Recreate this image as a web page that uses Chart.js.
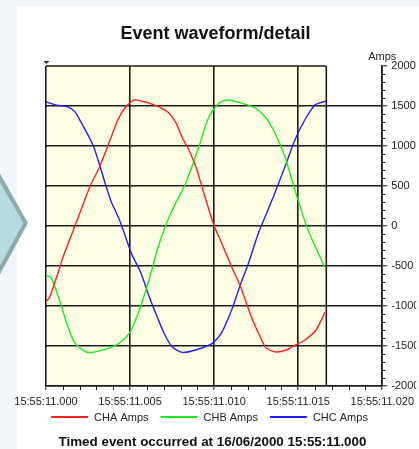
<!DOCTYPE html>
<html>
<head>
<meta charset="utf-8">
<script src="https://cdn.jsdelivr.net/npm/chart.js@4/dist/chart.umd.min.js"></script>
<style>
  html, body { margin: 0; padding: 0; background: #eff5f8; overflow: hidden; }
  canvas { display: block; }
</style>
</head>
<body>
<canvas id="wave" width="419" height="449"></canvas>
<script>
// Event record: one mains cycle of the three phase currents (time in ms after trigger)
const eventDate = '16/06/2000';
const eventTime = '15:55:11';
const recordEndMs = 16.67;

const chaTime = [0, 0.2, 0.83, 1.02, 1.71, 2.63, 3.19, 3.68, 4.27, 4.78, 5.25, 5.72, 6.14, 6.73, 7.32, 7.73, 8.09, 8.5, 8.91, 9.39, 9.98, 10.45, 11.04, 11.57, 12.22, 12.75, 13.1, 13.7, 14.3, 14.82, 15.4, 16.06, 16.6];
const chaAmps = [-940, -900, -509, -384, -5, 500, 741, 1000, 1325, 1500, 1575, 1560, 1535, 1490, 1410, 1290, 1110, 950, 740, 410, 12, -215, -510, -760, -1140, -1390, -1525, -1575, -1550, -1490, -1425, -1300, -1075];

const chbTime = [0, 0.28, 0.53, 0.93, 1.22, 1.71, 2.4, 2.99, 4.17, 4.96, 5.55, 5.94, 6.32, 6.61, 7.13, 7.72, 8.31, 9.09, 9.68, 10.27, 10.86, 11.63, 12.44, 13.03, 13.62, 14.21, 14.8, 14.99, 15.58, 16.57];
const chbAmps = [-620, -640, -760, -1010, -1210, -1460, -1575, -1570, -1490, -1340, -1050, -800, -530, -300, 12, 290, 535, 990, 1360, 1535, 1575, 1535, 1475, 1365, 1160, 865, 450, 325, -50, -510];

const chcTime = [0, 0.63, 1.3, 1.71, 2.0, 2.79, 3.19, 3.58, 3.88, 4.37, 4.86, 5.14, 5.65, 6.14, 6.61, 7.02, 7.5, 8.09, 8.9, 9.86, 10.45, 11.04, 11.55, 12.04, 12.63, 13.03, 13.52, 14.21, 14.8, 15.39, 15.98, 16.47, 16.65];
const chcAmps = [1550, 1510, 1490, 1430, 1330, 1012, 762, 491, 304, 75, -215, -370, -590, -885, -1135, -1340, -1510, -1580, -1550, -1470, -1330, -1050, -740, -465, -90, 115, 365, 740, 1075, 1325, 1510, 1550, 1560];

const seriesNames = ['CHA Amps', 'CHB Amps', 'CHC Amps'];
const seriesColors = ['#ff2020', '#20e820', '#2020ff'];

const FONT = '"Liberation Sans", Arial, Helvetica, sans-serif';
const INK = '#1c1c1c';

function toPoints(times, values) {
  return times.map((t, i) => ({ x: t, y: values[i] }));
}

function timeLabel(ms) {
  return `${eventTime}.${String(Math.round(ms)).padStart(3, '0')}`;
}

// Page, card, plot fill, frame, minor ticks and all captions
const decor = {
  id: 'decor',
  beforeDraw(chart) {
    const { ctx, width, height, chartArea: a, scales } = chart;
    ctx.save();
    ctx.fillStyle = '#eff5f8';
    ctx.fillRect(0, 0, width, height);
    ctx.fillStyle = '#ffffff';
    ctx.fillRect(17, 6, width - 17, height - 6);
    const x0 = scales.x.getPixelForValue(0);
    const x1 = scales.x.getPixelForValue(recordEndMs);
    ctx.fillStyle = '#fefee4';
    ctx.fillRect(x0, a.top, x1 - x0, a.bottom - a.top);
    ctx.restore();
  },
  beforeDatasetsDraw(chart) {
    const { ctx, chartArea: a, scales } = chart;
    const xs = scales.x, ys = scales.y;
    const x0 = xs.getPixelForValue(0);
    const x1 = xs.getPixelForValue(recordEndMs);
    ctx.save();
    ctx.strokeStyle = INK;
    ctx.lineWidth = 1.6;
    ctx.beginPath();
    ctx.moveTo(x0, a.top);
    ctx.lineTo(x1, a.top);
    ctx.moveTo(x1, a.top);
    ctx.lineTo(x1, a.bottom);
    ctx.stroke();

    // minor ticks
    ctx.lineWidth = 1;
    ctx.beginPath();
    for (let t = 1; t < 20; t++) {
      if (t % 5 === 0) continue;
      const px = Math.round(xs.getPixelForValue(t)) + 0.5;
      ctx.moveTo(px, a.bottom);
      ctx.lineTo(px, a.bottom + 4);
    }
    for (let v = -1900; v < 2000; v += 100) {
      if (v % 500 === 0) continue;
      const py = Math.round(ys.getPixelForValue(v)) + 0.5;
      ctx.moveTo(a.right, py);
      ctx.lineTo(a.right + 3, py);
    }
    ctx.stroke();

    // trigger marker
    ctx.fillStyle = '#333';
    ctx.beginPath();
    ctx.moveTo(x0 - 2.5, a.top - 5);
    ctx.lineTo(x0 + 3.5, a.top - 5);
    ctx.lineTo(x0 + 0.5, a.top - 2);
    ctx.closePath();
    ctx.fill();
    ctx.restore();
  },
  afterDraw(chart) {
    const { ctx, chartArea: a } = chart;
    ctx.save();
    ctx.fillStyle = '#111';
    ctx.textBaseline = 'alphabetic';

    // title
    ctx.font = `bold 18px ${FONT}`;
    ctx.textAlign = 'center';
    ctx.fillText('Event waveform/detail', 215.5, 39);

    // unit caption over the value axis
    ctx.font = `11px ${FONT}`;
    ctx.fillStyle = '#222';
    ctx.fillText('Amps', a.right, 60);

    // legend
    ctx.font = `11px ${FONT}`;
    ctx.textAlign = 'left';
    const lineLen = 37, gapA = 6, gapB = 12;
    const items = chart.data.datasets.map(ds => ({ ds, w: ctx.measureText(ds.label).width }));
    const total = items.reduce((s, it) => s + lineLen + gapA + it.w, 0) + gapB * (items.length - 1);
    let lx = 209.5 - total / 2;
    const ly = 417;
    items.forEach(({ ds, w }) => {
      ctx.strokeStyle = ds.borderColor;
      ctx.lineWidth = 2;
      ctx.beginPath();
      ctx.moveTo(lx, ly);
      ctx.lineTo(lx + lineLen, ly);
      ctx.stroke();
      ctx.fillStyle = '#222';
      ctx.fillText(ds.label, lx + lineLen + gapA, ly + 4);
      lx += lineLen + gapA + w + gapB;
    });

    // footer
    ctx.font = `bold 13.4px ${FONT}`;
    ctx.textAlign = 'center';
    ctx.fillStyle = '#111';
    ctx.fillText(`Timed event occurred at ${eventDate} ${timeLabel(0)}`, 212.5, 446);

    // chevron at the page edge
    ctx.fillStyle = '#8eaaad';
    ctx.beginPath();
    ctx.moveTo(-1, 172);
    ctx.lineTo(28, 223);
    ctx.lineTo(-1, 276);
    ctx.closePath();
    ctx.fill();
    ctx.fillStyle = '#b4dce2';
    ctx.beginPath();
    ctx.moveTo(-1, 180.5);
    ctx.lineTo(23.4, 223);
    ctx.lineTo(-1, 267.5);
    ctx.closePath();
    ctx.fill();
    ctx.restore();
  }
};

const timeSeries = [
  [chaTime, chaAmps],
  [chbTime, chbAmps],
  [chcTime, chcAmps]
];

new Chart(document.getElementById('wave'), {
  type: 'line',
  data: {
    datasets: timeSeries.map(([t, v], i) => ({
      label: seriesNames[i],
      data: toPoints(t, v),
      borderColor: seriesColors[i],
      backgroundColor: seriesColors[i],
      borderWidth: 1.4,
      pointRadius: 0,
      tension: 0.25,
      fill: false
    }))
  },
  options: {
    responsive: false,
    animation: false,
    devicePixelRatio: 1,
    layout: { padding: { left: 46, top: 66, right: 0, bottom: 0 } },
    plugins: {
      legend: { display: false },
      title: { display: false },
      tooltip: { enabled: false }
    },
    scales: {
      x: {
        type: 'linear',
        position: 'bottom',
        min: 0,
        max: 20,
        afterFit(scale) { scale.height = 63; },
        ticks: {
          stepSize: 5,
          autoSkip: false,
          maxRotation: 0,
          padding: 5,
          color: '#222',
          font: { family: FONT, size: 11 },
          callback: v => timeLabel(v)
        },
        grid: { color: INK, lineWidth: 1.6, tickLength: 4, tickColor: INK, tickWidth: 1 },
        border: { color: INK, width: 1.6 }
      },
      y: {
        position: 'right',
        min: -2000,
        max: 2000,
        afterFit(scale) { scale.width = 34; },
        ticks: {
          stepSize: 500,
          padding: 4,
          color: '#222',
          font: { family: FONT, size: 11 },
          callback: v => String(v)
        },
        grid: {
          color: c => (c.tick && c.tick.value === 2000) ? 'rgba(0,0,0,0)' : INK,
          lineWidth: 1.6,
          tickLength: 5,
          tickColor: INK,
          tickWidth: 1
        },
        border: { color: INK, width: 1.6 }
      }
    }
  },
  plugins: [decor]
});
</script>
</body>
</html>
